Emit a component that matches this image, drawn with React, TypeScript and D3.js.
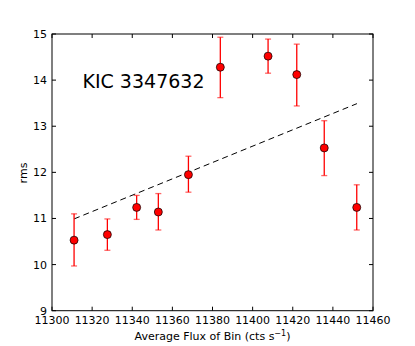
import * as d3 from 'd3'

const flux = [11311, 11327.6, 11342.2, 11353, 11368, 11383.9, 11407.7, 11422, 11435.7, 11451.9]
const rms = [10.53, 10.65, 11.24, 11.14, 11.95, 14.28, 14.52, 14.12, 12.53, 11.24]
const errLow = [9.97, 10.31, 10.98, 10.75, 11.57, 13.62, 14.15, 13.44, 11.93, 10.75]
const errHigh = [11.1, 10.99, 11.5, 11.54, 12.35, 14.93, 14.89, 14.78, 13.12, 11.73]
const fitLine: [number, number][] = [
  [11311, 10.99],
  [11452, 13.49],
]
const xTicks = [11300, 11320, 11340, 11360, 11380, 11400, 11420, 11440, 11460]
const yTicks = [9, 10, 11, 12, 13, 14, 15]

const W = 415
const H = 346
const m = { left: 52, right: 373, top: 34, bottom: 310.7 }
const font = 'DejaVu Sans, sans-serif'

const x = d3.scaleLinear().domain([11300, 11460]).range([m.left, m.right])
const y = d3.scaleLinear().domain([9, 15]).range([m.bottom, m.top])

const line = d3
  .line<[number, number]>()
  .x(d => x(d[0]))
  .y(d => y(d[1]))

export default function App() {
  return (
    <svg
      width={W}
      height={H}
      style={{ position: 'absolute', left: 0, top: 0, background: '#fff' }}
      fontFamily={font}
    >
      <path d={line(fitLine) ?? ''} stroke="#000" fill="none" strokeDasharray="6,4" strokeWidth={1} />
      {flux.map((f, i) => (
        <g key={i}>
          <line x1={x(f)} x2={x(f)} y1={y(errLow[i])} y2={y(errHigh[i])} stroke="#ff0000" strokeWidth={1.3} />
          {[errLow[i], errHigh[i]].map((v, j) => (
            <line
              key={j}
              x1={x(f) - 3}
              x2={x(f) + 3}
              y1={y(v)}
              y2={y(v)}
              stroke="#ff0000"
              strokeOpacity={0.6}
              strokeWidth={1.3}
            />
          ))}
          <circle cx={x(f)} cy={y(rms[i])} r={4} fill="#ff0000" stroke="#000" strokeWidth={0.7} />
        </g>
      ))}
      <rect
        x={m.left}
        y={m.top}
        width={m.right - m.left}
        height={m.bottom - m.top}
        fill="none"
        stroke="#000"
        strokeWidth={1}
      />
      {xTicks.map(t => (
        <g key={t}>
          <line x1={x(t)} x2={x(t)} y1={m.bottom} y2={m.bottom - 4} stroke="#000" />
          <line x1={x(t)} x2={x(t)} y1={m.top} y2={m.top + 4} stroke="#000" />
          <text x={x(t)} y={324} fontSize={11} textAnchor="middle" fill="#000">
            {t}
          </text>
        </g>
      ))}
      {yTicks.map(t => (
        <g key={t}>
          <line x1={m.left} x2={m.left + 4} y1={y(t)} y2={y(t)} stroke="#000" />
          <line x1={m.right} x2={m.right - 4} y1={y(t)} y2={y(t)} stroke="#000" />
          <text x={47} y={y(t) + 4} fontSize={11} textAnchor="end" fill="#000">
            {t}
          </text>
        </g>
      ))}
      <text x={82.5} y={88} fontSize={19} fill="#000">
        KIC 3347632
      </text>
      <text x={212.5} y={340} fontSize={11} textAnchor="middle" fill="#000">
        Average Flux of Bin (cts s
        <tspan dy={-4} fontSize={8}>
          −1
        </tspan>
        <tspan dy={4}>)</tspan>
      </text>
      <text transform="translate(27,173) rotate(-90)" fontSize={11} textAnchor="middle" fill="#000">
        rms
      </text>
    </svg>
  )
}
